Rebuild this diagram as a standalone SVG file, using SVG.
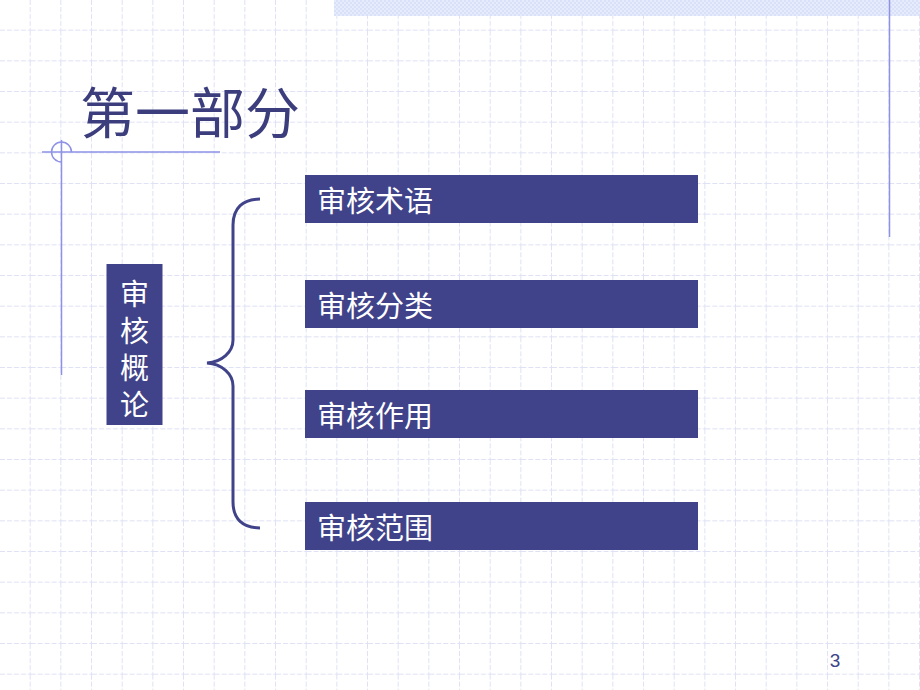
<svg xmlns="http://www.w3.org/2000/svg" width="920" height="690" viewBox="0 0 920 690">
<defs>
<pattern id="grid" width="30.667" height="30.667" patternUnits="userSpaceOnUse">
<path d="M30.167 0V30.667M0 30.167H30.667" fill="none" stroke="#dfe1f4" stroke-width="1" stroke-dasharray="5 2"/>
</pattern>
<pattern id="check" width="4" height="4" patternUnits="userSpaceOnUse">
<rect width="4" height="4" fill="#e6ecfb"/>
<rect width="2" height="2" fill="#d8e1f8"/>
<rect x="2" y="2" width="2" height="2" fill="#d8e1f8"/>
</pattern>
<style>
.box{fill:#404389}
.lbl{font-family:"Noto Sans CJK SC","Noto Sans",sans-serif;font-size:29px;fill:#ffffff}
.deco{stroke:#8e92e6;stroke-width:1.5;fill:none}
</style>
</defs>
<rect width="920" height="690" fill="#ffffff"/>
<rect width="920" height="690" fill="url(#grid)"/>
<rect x="334" y="0" width="586" height="16" fill="url(#check)"/>
<line class="deco" x1="889.5" y1="0" x2="889.5" y2="237"/>
<line class="deco" x1="42" y1="152" x2="220" y2="152"/>
<line class="deco" x1="61.5" y1="140" x2="61.5" y2="375"/>
<path class="deco" d="M71.5 152A10 10 0 1 0 61.5 162"/>
<text x="80" y="133" font-family="'Noto Sans CJK SC','Noto Sans',sans-serif" font-size="55" fill="#3c3d7c">第一部分</text>
<g id="n_root">
<rect class="box" x="106.5" y="264" width="56" height="161"/>
<text class="lbl" x="134.5" y="279" font-size="28" writing-mode="vertical-rl" letter-spacing="8">审核概论</text>
</g>
<g id="connectors">
<path d="M260 199C243 199 233 208 233 225V340C233 352 222 362 207 363C222 364 233 374 233 386V502C233 519 243 528 260 528" fill="none" stroke="#404389" stroke-width="3"/>
</g>
<g id="n1"><rect class="box" x="305" y="175" width="393" height="48"/><text class="lbl" x="317" y="212">审核术语</text></g>
<g id="n2"><rect class="box" x="305" y="280" width="393" height="48"/><text class="lbl" x="317" y="317">审核分类</text></g>
<g id="n3"><rect class="box" x="305" y="390" width="393" height="48"/><text class="lbl" x="317" y="427">审核作用</text></g>
<g id="n4"><rect class="box" x="305" y="502" width="393" height="48"/><text class="lbl" x="317" y="539">审核范围</text></g>
<text x="835" y="667" text-anchor="middle" font-family="'Liberation Sans',Arial,sans-serif" font-size="19" fill="#404389">3</text>
</svg>
